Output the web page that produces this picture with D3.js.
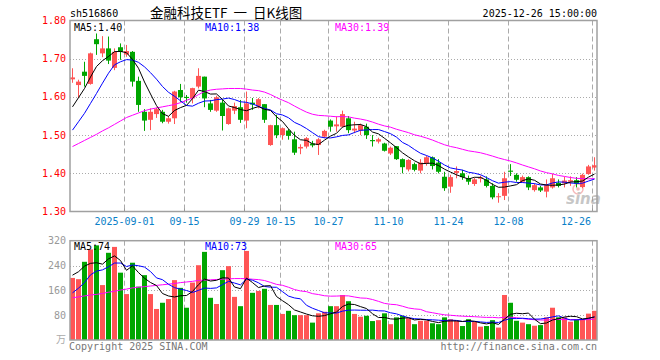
<!DOCTYPE html>
<html><head><meta charset="utf-8">
<script src="https://cdn.jsdelivr.net/npm/d3@7/dist/d3.min.js"></script>
<style>body{margin:0;background:#fff}svg{display:block}</style>
</head><body>
<svg id="c" width="660" height="360"></svg>
<script>
const dates = ["08-19","08-20","08-21","08-22","08-25","08-26","08-27","08-28","08-29",
"09-01","09-02","09-03","09-04","09-05","09-08","09-09","09-10","09-11","09-12","09-15","09-16","09-17","09-18","09-19","09-22","09-23","09-24","09-25","09-26","09-29","09-30",
"10-09","10-10","10-13","10-14","10-15","10-16","10-17","10-20","10-21","10-22","10-23","10-24","10-27","10-28","10-29","10-30","10-31",
"11-03","11-04","11-05","11-06","11-07","11-10","11-11","11-12","11-13","11-14","11-17","11-18","11-19","11-20","11-21","11-24","11-25","11-26","11-27","11-28",
"12-01","12-02","12-03","12-04","12-05","12-08","12-09","12-10","12-11","12-12","12-15","12-16","12-17","12-18","12-19","12-22","12-23","12-24","12-25","12-26"];
const openP = [1.646,1.631,1.666,1.634,1.751,1.714,1.727,1.676,1.730,1.711,
1.718,1.642,1.561,1.540,1.555,1.561,1.535,1.544,1.618,1.600,
1.596,1.627,1.653,1.583,1.564,1.585,1.529,1.564,1.573,1.538,
1.585,1.576,1.581,1.474,1.526,1.500,1.512,1.489,1.465,1.470,
1.478,1.474,1.496,1.538,1.523,1.522,1.544,1.512,1.512,1.522,
1.487,1.483,1.478,1.452,1.471,1.437,1.410,1.424,1.407,1.426,
1.442,1.428,1.391,1.365,1.401,1.400,1.387,1.372,1.386,1.384,
1.367,1.338,1.341,1.407,1.396,1.378,1.390,1.356,1.363,1.352,
1.363,1.375,1.374,1.378,1.382,1.364,1.398,1.415];
const highP = [1.675,1.645,1.692,1.716,1.766,1.759,1.758,1.727,1.740,1.736,
1.720,1.653,1.568,1.570,1.572,1.566,1.550,1.616,1.634,1.605,
1.624,1.675,1.653,1.592,1.603,1.592,1.572,1.585,1.592,1.614,
1.597,1.597,1.581,1.527,1.553,1.520,1.516,1.509,1.476,1.495,
1.485,1.492,1.514,1.541,1.549,1.564,1.550,1.535,1.530,1.530,
1.500,1.493,1.480,1.470,1.471,1.439,1.437,1.428,1.437,1.446,
1.444,1.437,1.404,1.396,1.418,1.409,1.394,1.388,1.394,1.392,
1.374,1.348,1.404,1.424,1.400,1.394,1.392,1.374,1.367,1.384,
1.399,1.384,1.391,1.392,1.390,1.399,1.422,1.442];
const lowP = [1.637,1.597,1.627,1.632,1.710,1.704,1.686,1.670,1.697,1.705,
1.627,1.561,1.511,1.513,1.545,1.531,1.530,1.529,1.587,1.585,
1.583,1.622,1.573,1.561,1.561,1.512,1.527,1.555,1.532,1.518,
1.566,1.570,1.532,1.472,1.492,1.488,1.488,1.448,1.450,1.465,
1.468,1.448,1.492,1.509,1.509,1.520,1.505,1.505,1.500,1.490,
1.470,1.478,1.457,1.448,1.435,1.400,1.405,1.405,1.400,1.420,
1.410,1.400,1.354,1.349,1.387,1.383,1.370,1.367,1.376,1.363,
1.332,1.323,1.330,1.393,1.378,1.376,1.356,1.352,1.351,1.337,
1.360,1.363,1.363,1.367,1.363,1.361,1.396,1.407];
const closeP = [1.651,1.640,1.655,1.714,1.738,1.727,1.695,1.718,1.718,1.720,
1.640,1.579,1.538,1.561,1.568,1.535,1.544,1.614,1.599,1.597,
1.623,1.655,1.596,1.566,1.599,1.550,1.570,1.576,1.540,1.583,
1.580,1.594,1.540,1.526,1.500,1.518,1.498,1.454,1.469,1.492,
1.473,1.489,1.511,1.522,1.528,1.555,1.513,1.517,1.526,1.500,
1.484,1.489,1.459,1.467,1.437,1.416,1.435,1.409,1.428,1.442,
1.419,1.404,1.361,1.390,1.406,1.390,1.378,1.384,1.389,1.367,
1.337,1.340,1.387,1.404,1.383,1.390,1.363,1.369,1.355,1.369,
1.387,1.367,1.381,1.382,1.373,1.396,1.418,1.421];
const volume = [200,196,252,292,305,177,281,300,217,148,
249,172,209,148,100,120,132,193,168,104,
185,241,284,136,116,225,238,139,109,287,
152,158,165,113,113,84,94,80,80,80,
56,86,91,109,109,145,125,84,75,78,
61,64,86,51,73,78,70,51,62,62,
54,51,73,67,62,45,67,59,43,45,
64,40,145,120,62,56,51,46,48,73,
104,73,73,59,67,67,85,94];
// moving-average values at the left edge (they depend on days before the window)
const ma5Head = [1.574,1.598,1.622,1.652];
const ma10Head = [1.513,1.535,1.557,1.583,1.609,1.636,1.662,1.684,1.692];
const ma30Head = [1.470,1.478,1.486,1.494,1.502,1.511,1.519,1.528,1.537,1.546,1.552,1.558,1.564,1.568,1.571,1.574,1.577,1.580,1.585,1.591,1.597,1.606,1.614,1.618,1.620,1.621,1.622,1.622,1.622];
const vma5Head = [209,220,238,247];
const vma10Head = [152,167,185,210,222,226,236,248,248];
const vma30Head = [136,139,142,145,147,150,154,157,161,164,168,170,172,174,176,178,180,182,185,187,189,192,193,194,195,196,197,198,198];
const priceTicks = [1.80,1.70,1.60,1.50,1.40,1.30];
const volTicks = [320,240,160,80];
const dateTicks = ["09-01","09-15","09-29","10-15","10-27","11-10","11-24","12-08","12-26"];
const dateTickLabels = ["2025-09-01","09-15","09-29","10-15","10-27","11-10","11-24","12-08","12-26"];
const legendP = {ma5:"1.40", ma10:"1.38", ma30:"1.39"};
const legendV = {ma5:"74", ma10:"73", ma30:"65"};

function ma(arr, n, head){
  return arr.map((v,i)=> i < head.length ? head[i] : d3.mean(arr.slice(i-n+1,i+1)));
}
const pMA5 = ma(closeP,5,ma5Head), pMA10 = ma(closeP,10,ma10Head), pMA30 = ma(closeP,30,ma30Head);
const vMA5 = ma(volume,5,vma5Head), vMA10 = ma(volume,10,vma10Head), vMA30 = ma(volume,30,vma30Head);

const RED="#ff5555", GREEN="#00a600", GRID="#aaaaaa", FRAME="#a0a0a0";
const MONO="'DejaVu Sans Mono', 'Liberation Mono', monospace";
const svg = d3.select("#c");
const L=70, R=597, PT=20.5, PB=211.5, VT=240.7, VB=340;
const x = d3.scaleBand().domain(dates).range([70,598]).padding(0);
const bw = 5;
const y = d3.scaleLinear().domain([1.30,1.80]).range([PB,PT]);
const yv = d3.scaleLinear().domain([0,320]).range([VB,VT]);
const up = i => closeP[i] >= openP[i];

// grids
const g = svg.append("g");
[1.70,1.60,1.50,1.40].forEach(v=>{
  g.append("line").attr("x1",L).attr("x2",R).attr("y1",Math.round(y(v))+0.5).attr("y2",Math.round(y(v))+0.5)
   .attr("stroke",GRID).attr("stroke-dasharray","1,2");
});
[240,160,80].forEach(v=>{
  g.append("line").attr("x1",L).attr("x2",R).attr("y1",Math.round(yv(v))+0.5).attr("y2",Math.round(yv(v))+0.5)
   .attr("stroke",GRID).attr("stroke-dasharray","1,2");
});
dateTicks.forEach(d=>{
  const xx = x(d)+0.5;
  g.append("line").attr("x1",xx).attr("x2",xx).attr("y1",PT).attr("y2",PB).attr("stroke",GRID).attr("stroke-dasharray","5,3");
  g.append("line").attr("x1",xx).attr("x2",xx).attr("y1",VT).attr("y2",VB).attr("stroke",GRID).attr("stroke-dasharray","5,3");
  g.append("line").attr("x1",xx).attr("x2",xx).attr("y1",PB-3).attr("y2",PB).attr("stroke","#999");
});

// watermark
const wm = svg.append("g").attr("opacity",0.55);
wm.append("circle").attr("cx",578).attr("cy",189).attr("r",5).attr("fill","none").attr("stroke","#f08080").attr("stroke-width",1.5);
wm.append("circle").attr("cx",578).attr("cy",189).attr("r",1.8).attr("fill","#f08080");
wm.append("text").attr("x",566).attr("y",204).attr("font-family","'DejaVu Sans',sans-serif").attr("font-size",15)
  .attr("font-weight","bold").attr("font-style","italic").attr("fill","#999").text("sina");

// candles
const idx = d3.range(dates.length);
const cg = svg.append("g");
cg.selectAll("line.w").data(idx).join("line")
  .attr("x1",i=>x(dates[i])+2.5).attr("x2",i=>x(dates[i])+2.5)
  .attr("y1",i=>y(highP[i])).attr("y2",i=>y(lowP[i]))
  .attr("stroke",i=>up(i)?RED:GREEN);
cg.selectAll("rect").data(idx).join("rect")
  .attr("x",i=>x(dates[i])).attr("width",bw)
  .attr("y",i=>y(Math.max(openP[i],closeP[i])))
  .attr("height",i=>Math.max(1,Math.abs(y(openP[i])-y(closeP[i]))))
  .attr("fill",i=>up(i)?RED:GREEN);

// volume bars
svg.append("g").selectAll("rect").data(idx).join("rect")
  .attr("x",i=>x(dates[i])).attr("width",bw)
  .attr("y",i=>yv(volume[i])).attr("height",i=>yv(0)-yv(volume[i]))
  .attr("fill",i=>up(i)?RED:GREEN);

// MA lines
function drawLine(data, ys, color){
  svg.append("path").datum(idx).attr("fill","none").attr("stroke",color).attr("stroke-width",1)
    .attr("d", d3.line().x(i=>x(dates[i])+2.5).y(i=>ys(data[i])));
}
drawLine(pMA30,y,"#ff00ff"); drawLine(pMA10,y,"#0000ff"); drawLine(pMA5,y,"#000000");
drawLine(vMA30,yv,"#ff00ff"); drawLine(vMA10,yv,"#0000ff"); drawLine(vMA5,yv,"#000000");

// frames
svg.append("rect").attr("x",L).attr("y",PT).attr("width",R-L).attr("height",PB-PT).attr("fill","none").attr("stroke",FRAME).attr("stroke-width",1.5);
svg.append("rect").attr("x",L).attr("y",VT).attr("width",R-L).attr("height",VB-VT).attr("fill","none").attr("stroke",FRAME).attr("stroke-width",1.5);

// axis labels
const t = svg.append("g").attr("font-family",MONO).attr("font-size",10);
priceTicks.forEach(v=>{
  t.append("text").attr("x",66).attr("y",y(v)+3.5).attr("text-anchor","end").attr("fill","#ff0000").text(v.toFixed(2));
});
volTicks.forEach(v=>{
  t.append("text").attr("x",66).attr("y",yv(v)+3.5).attr("text-anchor","end").attr("fill","#999").text(v);
});
t.append("text").attr("x",66).attr("y",343).attr("text-anchor","end").attr("fill","#aaa")
  .attr("font-family","'Noto Sans CJK SC',sans-serif").attr("font-size",10).text("万");
dateTicks.forEach((d,k)=>{
  const lbl = dateTickLabels[k];
  const w = lbl.length*6.02;
  let cx = x(d)+0.5;
  if (cx + w/2 > 591) cx = 591 - w/2;
  t.append("text").attr("x",cx).attr("y",225).attr("text-anchor","middle").attr("fill","#0a80c8").text(lbl);
});

// header
t.append("text").attr("x",70).attr("y",16.5).attr("fill","#000").text("sh516860");
svg.append("text").attr("x",150).attr("y",17.5).attr("font-family","'Noto Sans CJK SC',sans-serif").attr("font-size",13.5)
  .attr("xml:space","preserve").style("white-space","pre").attr("fill","#000").text("金融科技ETF  一  日K线图");
t.append("text").attr("x",597).attr("y",16.5).attr("text-anchor","end").attr("fill","#000").text("2025-12-26 15:00:00");

// legends
t.append("text").attr("x",74).attr("y",30.5).attr("fill","#000").text("MA5:"+legendP.ma5);
t.append("text").attr("x",205).attr("y",30.5).attr("fill","#0000ff").text("MA10:"+legendP.ma10);
t.append("text").attr("x",335).attr("y",30.5).attr("fill","#ff00ff").text("MA30:"+legendP.ma30);
t.append("text").attr("x",74).attr("y",250).attr("fill","#000").text("MA5:"+legendV.ma5);
t.append("text").attr("x",205).attr("y",250).attr("fill","#0000ff").text("MA10:"+legendV.ma10);
t.append("text").attr("x",335).attr("y",250).attr("fill","#ff00ff").text("MA30:"+legendV.ma30);

// footer
t.append("text").attr("x",69).attr("y",349.5).attr("fill","#777").text("Copyright 2025 SINA.COM");
t.append("text").attr("x",597).attr("y",349.5).attr("text-anchor","end").attr("fill","#777").text("http://finance.sina.com.cn");
</script>
</body></html>
